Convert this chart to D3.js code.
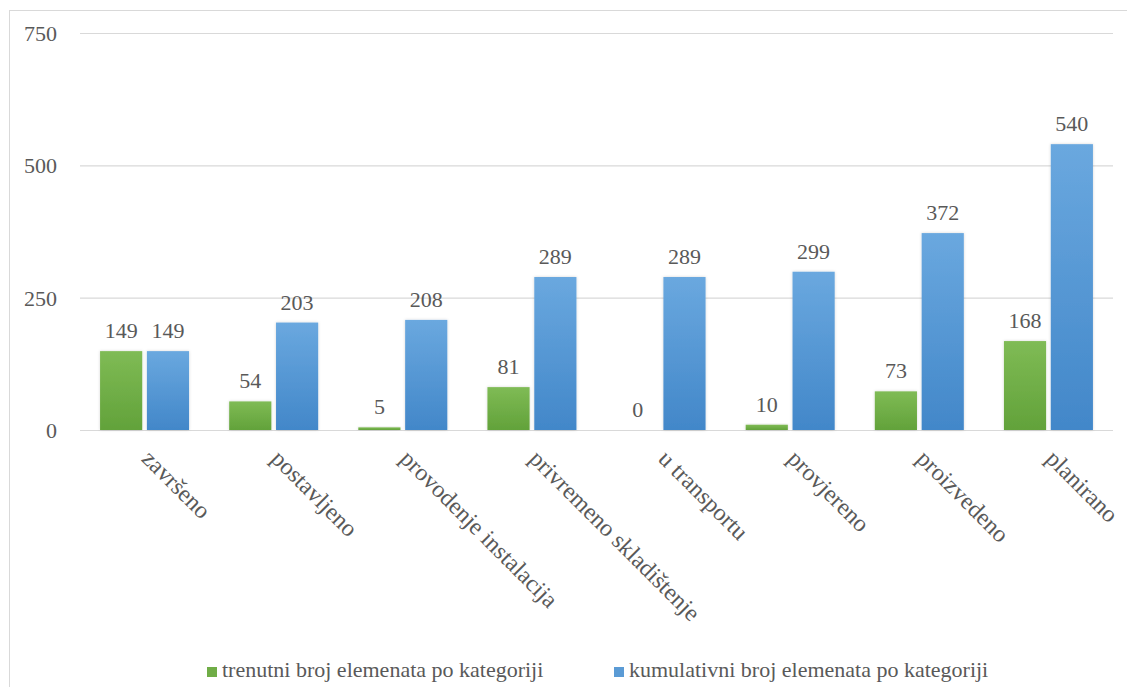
<!DOCTYPE html>
<html>
<head>
<meta charset="utf-8">
<script src="https://cdn.jsdelivr.net/npm/d3@7/dist/d3.min.js"></script>
</head>
<body style="margin:0;background:#ffffff">
<svg id="chart" width="1127" height="687" style="display:block"></svg>
<script>
// Categories (x axis) and the two series
const categories = [
  "završeno", "postavljeno", "provodenje instalacija", "privremeno skladištenje",
  "u transportu", "provjereno", "proizvedeno", "planirano"
];
const currentCounts    = [149, 54, 5, 81, 0, 10, 73, 168];
const cumulativeCounts = [149, 203, 208, 289, 289, 299, 372, 540];
const seriesNames = [
  "trenutni broj elemenata po kategoriji",
  "kumulativni broj elemenata po kategoriji"
];
const yTicks = [0, 250, 500, 750];

const FONT = "'Liberation Serif'";
const TEXT_COLOR = "#595959";

const W = 1127, H = 687;
const plot = { left: 80, right: 1113, top: 33, bottom: 430 };

const svg = d3.select("#chart");

// Apply the serif face to a text selection
function serif(sel, size) {
  return sel.attr("font-family", "Liberation Serif")
    .style("font-family", FONT)
    .style("font-size", size + "px")
    .attr("fill", TEXT_COLOR);
}

// Gradients and a soft edge for the bars
const defs = svg.append("defs");
const gradSpecs = [
  { id: "gGreen", top: "#7fbb55", bottom: "#62a23a" },
  { id: "gBlue",  top: "#6aa8df", bottom: "#4287c9" }
];
gradSpecs.forEach(g => {
  const lg = defs.append("linearGradient").attr("id", g.id)
    .attr("x1", 0).attr("y1", 0).attr("x2", 0).attr("y2", 1);
  lg.append("stop").attr("offset", "0%").attr("stop-color", g.top);
  lg.append("stop").attr("offset", "100%").attr("stop-color", g.bottom);
});
const f = defs.append("filter").attr("id", "soft")
  .attr("x", "-20%").attr("y", "-20%").attr("width", "140%").attr("height", "140%");
f.append("feDropShadow").attr("dx", 0).attr("dy", 0).attr("stdDeviation", 1.5)
  .attr("flood-color", "#000").attr("flood-opacity", 0.16);

// Chart frame
svg.append("rect")
  .attr("x", 9.5).attr("y", 10.5)
  .attr("width", W - 4).attr("height", H)
  .attr("fill", "none").attr("stroke", "#d9d9d9").attr("stroke-width", 1);

// Scales
const x = d3.scaleBand().domain(categories).range([plot.left, plot.right]).padding(0);
const y = d3.scaleLinear().domain([0, 750]).range([plot.bottom, plot.top]);
const pairWidth = 89;
const xs = d3.scaleBand().domain([0, 1]).range([0, pairWidth]).paddingInner(0.1);
const pairOffset = (x.bandwidth() - pairWidth) / 2;

// Horizontal gridlines with value labels
const yAxis = d3.axisLeft(y).tickValues(yTicks).tickSize(-(plot.right - plot.left)).tickPadding(0);
const gy = svg.append("g").attr("transform", `translate(${plot.left},0)`).call(yAxis)
  .attr("font-family", "Liberation Serif").attr("font-size", 22);
gy.select(".domain").remove();
gy.selectAll(".tick line").attr("stroke", "#d9d9d9").attr("stroke-width", 1.2);
serif(gy.selectAll(".tick text"), 22)
  .attr("x", 57 - plot.left)
  .attr("dy", "0.34em")
  .attr("text-anchor", "end");

// Bars with value labels
const series = [
  { values: currentCounts, fill: "url(#gGreen)" },
  { values: cumulativeCounts, fill: "url(#gBlue)" }
];
series.forEach((s, si) => {
  const g = svg.append("g");
  g.selectAll("rect")
    .data(categories)
    .join("rect")
    .attr("x", (c) => x(c) + pairOffset + xs(si))
    .attr("width", xs.bandwidth())
    .attr("y", (c, i) => y(s.values[i]))
    .attr("height", (c, i) => y(0) - y(s.values[i]))
    .attr("fill", s.fill)
    .attr("filter", "url(#soft)");
  serif(g.selectAll("text")
    .data(categories)
    .join("text"), 22)
    .attr("x", (c) => x(c) + pairOffset + xs(si) + xs.bandwidth() / 2)
    .attr("y", (c, i) => y(s.values[i]) - 13)
    .attr("text-anchor", "middle")
    .text((c, i) => s.values[i]);
});

// Category labels, rotated
const xAxis = d3.axisBottom(x).tickSize(0).tickPadding(0);
const gx = svg.append("g").attr("transform", `translate(0,${plot.bottom})`).call(xAxis)
  .attr("font-family", "Liberation Serif").attr("font-size", 24);
gx.select(".domain").remove();
serif(gx.selectAll(".tick text"), 24)
  .attr("text-anchor", "start")
  .attr("dy", 0)
  .attr("y", 0)
  .attr("transform", "translate(-4,30) rotate(45)");

// Legend
const legendItems = [
  { name: seriesNames[0], color: "#70ad47", x: 207 },
  { name: seriesNames[1], color: "#5b9bd5", x: 614 }
];
const lg = svg.append("g");
legendItems.forEach(it => {
  lg.append("rect").attr("x", it.x).attr("y", 667).attr("width", 10).attr("height", 10)
    .attr("fill", it.color);
  serif(lg.append("text"), 22)
    .attr("x", it.x + 15).attr("y", 676.5)
    .text(it.name);
});
</script>
</body>
</html>
